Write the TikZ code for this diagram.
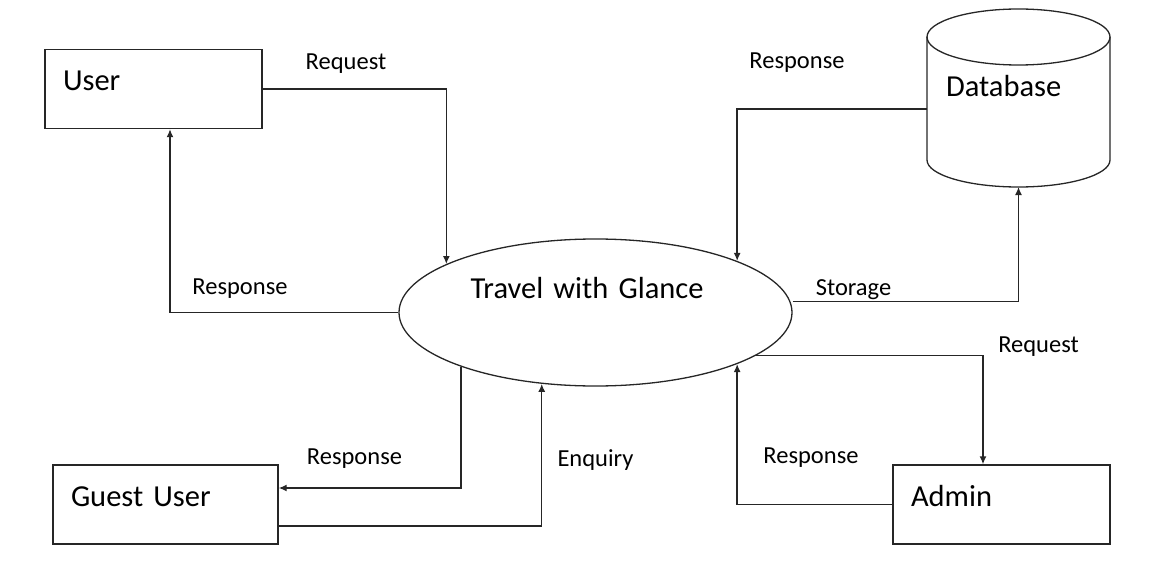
\documentclass[tikz,border=0pt]{standalone}
\usepackage{fontspec}
\setmainfont{Carlito}
\usetikzlibrary{shapes.geometric,arrows.meta}
\definecolor{trazo}{HTML}{262626}

\begin{document}
\begin{tikzpicture}[x=1pt, y=-1pt, >={Latex[length=8pt,width=7pt]},
    entidad/.style={draw=trazo, line width=1.4pt, rectangle, align=left,
        text width=#1, inner xsep=18pt, minimum height=79pt,
        text height=21pt, text depth=17pt, font=\fontsize{30.5}{36}\selectfont},
    proceso/.style={draw=trazo, line width=1.3pt, ellipse, align=left,
        text width=250pt, minimum width=393pt, minimum height=147pt,
        text height=21pt, text depth=50pt, font=\fontsize{30.5}{36}\selectfont},
    almacen/.style={rectangle, align=left, text width=145pt, inner xsep=19pt,
        minimum height=178pt, outer sep=0pt, text height=21pt, text depth=23pt,
        font=\fontsize{30.5}{36}\selectfont},
    etiqueta/.style={inner sep=0pt, font=\fontsize{24.5}{29}\selectfont},
    flujo/.style={draw=trazo, line width=1.4pt, ->}]
    \useasboundingbox (0,0) rectangle (1151,583);

    % Entidades
    \node[entidad=181pt] (user) at (153.5,89) {User};
    \node[entidad=189pt] (guest) at (165.5,504.5) {Guest User};
    \node[entidad=181pt] (admin) at (1001.5,504.5) {Admin};

    % Proceso
    \node[proceso] (proc) at (595.5,312.5) {Travel with Glance};

    % Base de datos
    \node[almacen] (db) at (1018.5,98) {Database};
    \draw[trazo, line width=1.3pt] ([yshift=-28pt]db.north) ellipse [x radius=91.5pt, y radius=28pt];
    \draw[trazo, line width=1.3pt] ([yshift=-28pt]db.north west) -- ([yshift=27pt]db.south west)
        arc[start angle=180, end angle=360, x radius=91.5pt, y radius=27pt]
        -- ([yshift=-28pt]db.north east);

    % Flujos
    \draw[flujo] (user.east) -| (proc.162);
    \draw[flujo] (proc.west) -| ([xshift=16.5pt]user.south);
    \draw[flujo] ([yshift=-11pt]db.west) -| (proc.20);
    \draw[flujo] ([yshift=11pt]proc.east) -| (db.south);
    \draw[flujo] (proc.345) -| ([xshift=-18.5pt]admin.north);
    \draw[flujo] (admin.west) -| (proc.340);
    \draw[flujo] (proc.202) |- ([yshift=16.5pt]guest.east);
    \draw[flujo] ([yshift=-21.5pt]guest.east) -| (proc.233);

    % Etiquetas
    \node[etiqueta] (lreq1) at (346,64) {Request};
    \node[etiqueta] (lres1) at (240,289) {Response};
    \node[etiqueta] (lres2) at (797,63) {Response};
    \node[etiqueta] (lsto) at (853.5,290) {Storage};
    \node[etiqueta] (lreq2) at (1038.5,347) {Request};
    \node[etiqueta] (lres3) at (811,458) {Response};
    \node[etiqueta] (lres4) at (354.5,459) {Response};
    \node[etiqueta] (lenq) at (595.5,460) {Enquiry};
\end{tikzpicture}
\end{document}
